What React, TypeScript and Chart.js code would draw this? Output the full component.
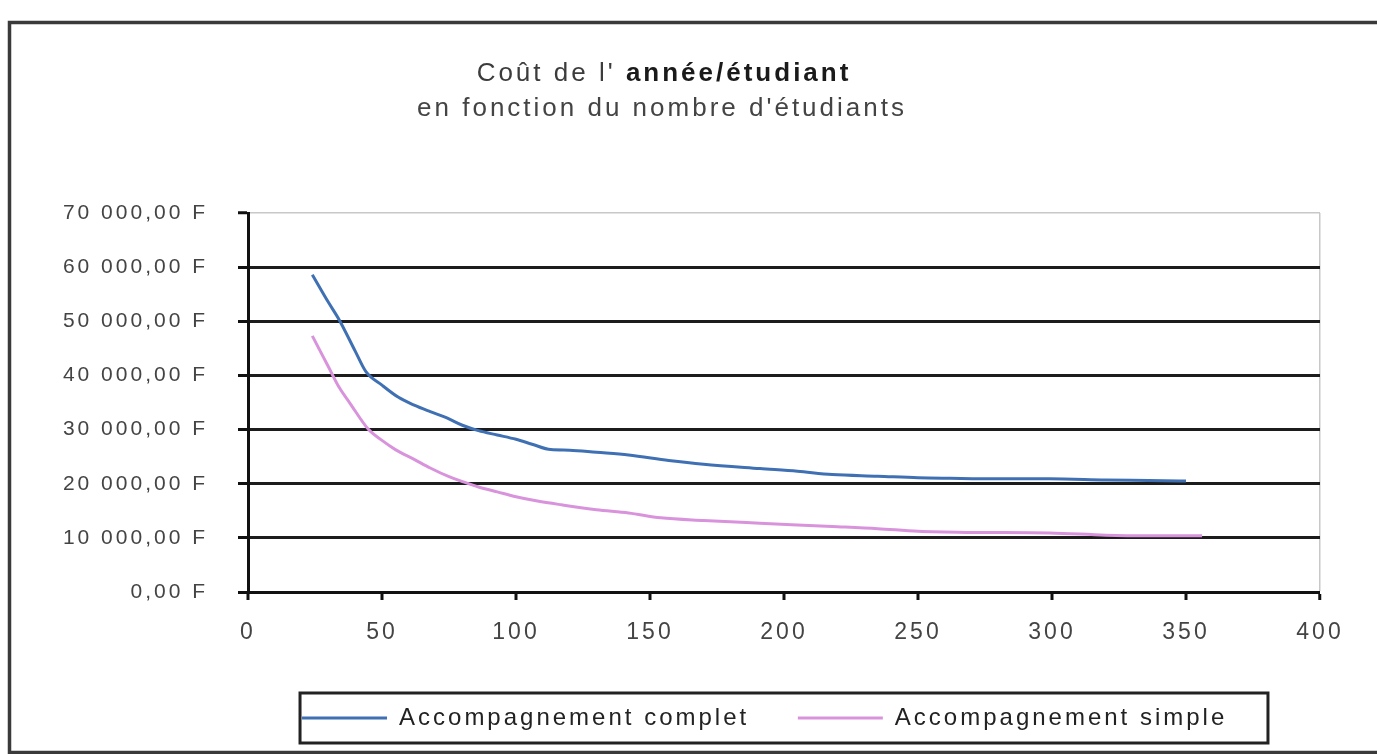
import React, { useEffect, useRef } from "react";
import { Chart, registerables } from "chart.js";

Chart.register(...registerables);

// Nombre d'étudiants (x) et coût de l'année/étudiant (y)
const N_COMPLET = [24, 30, 34, 40, 44, 50, 56, 62, 68, 74, 80, 86, 93, 100, 106, 113, 120, 130, 142, 157, 170, 191, 205, 218, 235, 250, 262, 280, 299, 320, 336, 350];
const COUT_COMPLET = [58600, 53500, 50300, 44500, 40700, 38200, 36000, 34500, 33300, 32200, 30800, 29800, 29000, 28200, 27300, 26300, 26200, 25800, 25300, 24300, 23600, 22800, 22300, 21700, 21400, 21100, 21000, 20900, 20900, 20700, 20600, 20500];

const N_SIMPLE = [24, 30, 34, 38, 45, 50, 55, 62, 68, 75, 80, 86, 93, 100, 108, 117, 130, 142, 154, 170, 191, 218, 235, 250, 270, 299, 320, 336, 356];
const COUT_SIMPLE = [47300, 41600, 37800, 34900, 30000, 28000, 26300, 24500, 22900, 21300, 20400, 19400, 18500, 17600, 16800, 16100, 15200, 14600, 13700, 13200, 12700, 12100, 11700, 11200, 11000, 10900, 10500, 10400, 10400];

const SERIES_LABELS = ["Accompagnement complet", "Accompagnement simple"];
const Y_TICK_LABELS = ["0,00 F", "10 000,00 F", "20 000,00 F", "30 000,00 F", "40 000,00 F", "50 000,00 F", "60 000,00 F", "70 000,00 F"];
const X_TICK_LABELS = ["0", "50", "100", "150", "200", "250", "300", "350", "400"];
const TITLE_NORMAL = "Coût de l' ";
const TITLE_BOLD = "année/étudiant";
const SUBTITLE = "en fonction du nombre d'étudiants";

const FONT = "'Liberation Sans', Arial, sans-serif";
const SPACING = "3px";

const spacingPlugin = {
  id: "spacing",
  beforeLayout(chart: any) {
    chart.ctx.letterSpacing = SPACING;
  },
  beforeDraw(chart: any) {
    const ctx = chart.ctx;
    ctx.letterSpacing = SPACING;
    ctx.save();
    ctx.fillStyle = "#ffffff";
    ctx.fillRect(0, 0, chart.width, chart.height);
    ctx.strokeStyle = "#3a3a3a";
    ctx.lineWidth = 3.5;
    ctx.strokeRect(9.5, 22.5, chart.width + 40, chart.height - 24);
    ctx.restore();
  },
};

const titlePlugin = {
  id: "titreMixte",
  afterDraw(chart: any) {
    const ctx = chart.ctx;
    ctx.save();
    ctx.letterSpacing = SPACING;
    ctx.textBaseline = "middle";
    ctx.textAlign = "left";
    const normalFont = `26px ${FONT}`;
    const boldFont = `bold 26px ${FONT}`;
    ctx.font = normalFont;
    const w1 = ctx.measureText(TITLE_NORMAL).width;
    ctx.font = boldFont;
    const w2 = ctx.measureText(TITLE_BOLD).width;
    const cx = 664;
    const x = cx - (w1 + w2) / 2;
    ctx.font = normalFont;
    ctx.fillStyle = "#3c3c3c";
    ctx.fillText(TITLE_NORMAL, x, 74);
    ctx.font = boldFont;
    ctx.fillStyle = "#1a1a1a";
    ctx.fillText(TITLE_BOLD, x + w1, 74);
    ctx.font = normalFont;
    ctx.fillStyle = "#444444";
    ctx.textAlign = "center";
    ctx.fillText(SUBTITLE, 662, 109);
    ctx.restore();
  },
};

const legendBoxPlugin = {
  id: "cadreLegende",
  afterDraw(chart: any) {
    const lg = chart.legend;
    if (!lg || !lg.legendHitBoxes || !lg.legendHitBoxes.length) return;
    const hb = lg.legendHitBoxes;
    const left = Math.min(...hb.map((h: any) => h.left)) - 2;
    const right = Math.max(...hb.map((h: any) => h.left + h.width)) + 2;
    const top = hb[0].top - 13;
    const bottom = hb[0].top + hb[0].height + 13;
    const ctx = chart.ctx;
    ctx.save();
    ctx.strokeStyle = "#222222";
    ctx.lineWidth = 3;
    ctx.strokeRect(left, top, right - left, bottom - top);
    ctx.restore();
  },
};

export default function App() {
  const ref = useRef<HTMLCanvasElement | null>(null);

  useEffect(() => {
    document.body.style.margin = "0";
    if (!ref.current) return;
    const chart = new Chart(ref.current, {
      type: "line",
      data: {
        datasets: [
          {
            label: SERIES_LABELS[0],
            data: N_COMPLET.map((n, i) => ({ x: n, y: COUT_COMPLET[i] })),
            borderColor: "#3f70b3",
            backgroundColor: "#3f70b3",
            borderWidth: 3,
            pointRadius: 0,
            cubicInterpolationMode: "monotone",
            fill: false,
          },
          {
            label: SERIES_LABELS[1],
            data: N_SIMPLE.map((n, i) => ({ x: n, y: COUT_SIMPLE[i] })),
            borderColor: "#d993dc",
            backgroundColor: "#d993dc",
            borderWidth: 3,
            pointRadius: 0,
            cubicInterpolationMode: "monotone",
            fill: false,
          },
        ],
      },
      options: {
        animation: false,
        responsive: false,
        maintainAspectRatio: false,
        layout: { padding: { left: 0, right: 57, top: 213, bottom: 14 } },
        plugins: {
          title: { display: false },
          tooltip: { enabled: false },
          legend: {
            display: true,
            position: "bottom",
            fullSize: false,
            labels: {
              usePointStyle: true,
              pointStyle: "line",
              pointStyleWidth: 85,
              boxHeight: 24,
              padding: 10,
              color: "#222222",
              font: { family: FONT, size: 24 },
              generateLabels: (chart: any) => {
                const items = Chart.defaults.plugins.legend.labels.generateLabels(chart);
                return items.map((it: any) => ({
                  ...it,
                  text: it.text + "\u00a0\u00a0\u00a0\u00a0",
                  lineWidth: 3,
                }));
              },
            },
          },
        },
        scales: {
          x: {
            type: "linear",
            min: 0,
            max: 400,
            afterFit: (s: any) => {
              s.height = 104;
            },
            afterBuildTicks: (s: any) => {
              s.ticks = X_TICK_LABELS.map((t) => ({ value: Number(t) }));
            },
            ticks: {
              stepSize: 50,
              padding: 19,
              color: "#444444",
              font: { family: FONT, size: 23 },
              maxRotation: 0,
              callback: (v: any, i: number) => X_TICK_LABELS[i] ?? String(v),
            },
            grid: {
              drawOnChartArea: true,
              color: (c: any) => (c.tick && c.tick.value === 400 ? "#c8c8c8" : "rgba(0,0,0,0)"),
              lineWidth: (c: any) => (c.tick && c.tick.value === 400 ? 1.5 : 0),
              tickColor: "#111111",
              tickLength: 8,
              tickWidth: 3,
            },
            border: { display: true, color: "#111111", width: 3 },
          },
          y: {
            type: "linear",
            min: 0,
            max: 70000,
            afterFit: (s: any) => {
              s.width = 248;
            },
            ticks: {
              stepSize: 10000,
              padding: 30,
              color: "#444444",
              font: { family: FONT, size: 21 },
              callback: (v: any) => Y_TICK_LABELS[Math.round(Number(v) / 10000)] ?? String(v),
            },
            grid: {
              color: (c: any) => (c.tick && c.tick.value === 70000 ? "#c8c8c8" : "#1c1c1c"),
              lineWidth: (c: any) => (c.tick && c.tick.value === 70000 ? 1.5 : 3),
              tickColor: "#111111",
              tickLength: 10,
              tickWidth: 3,
            },
            border: { display: true, color: "#111111", width: 3 },
          },
        },
      },
      plugins: [spacingPlugin, titlePlugin, legendBoxPlugin],
    } as any);
    return () => chart.destroy();
  }, []);

  return (
    <div style={{ width: 1377, height: 754, overflow: "hidden" }}>
      <canvas ref={ref} width={1377} height={754} style={{ display: "block", width: 1377, height: 754 }} />
    </div>
  );
}
